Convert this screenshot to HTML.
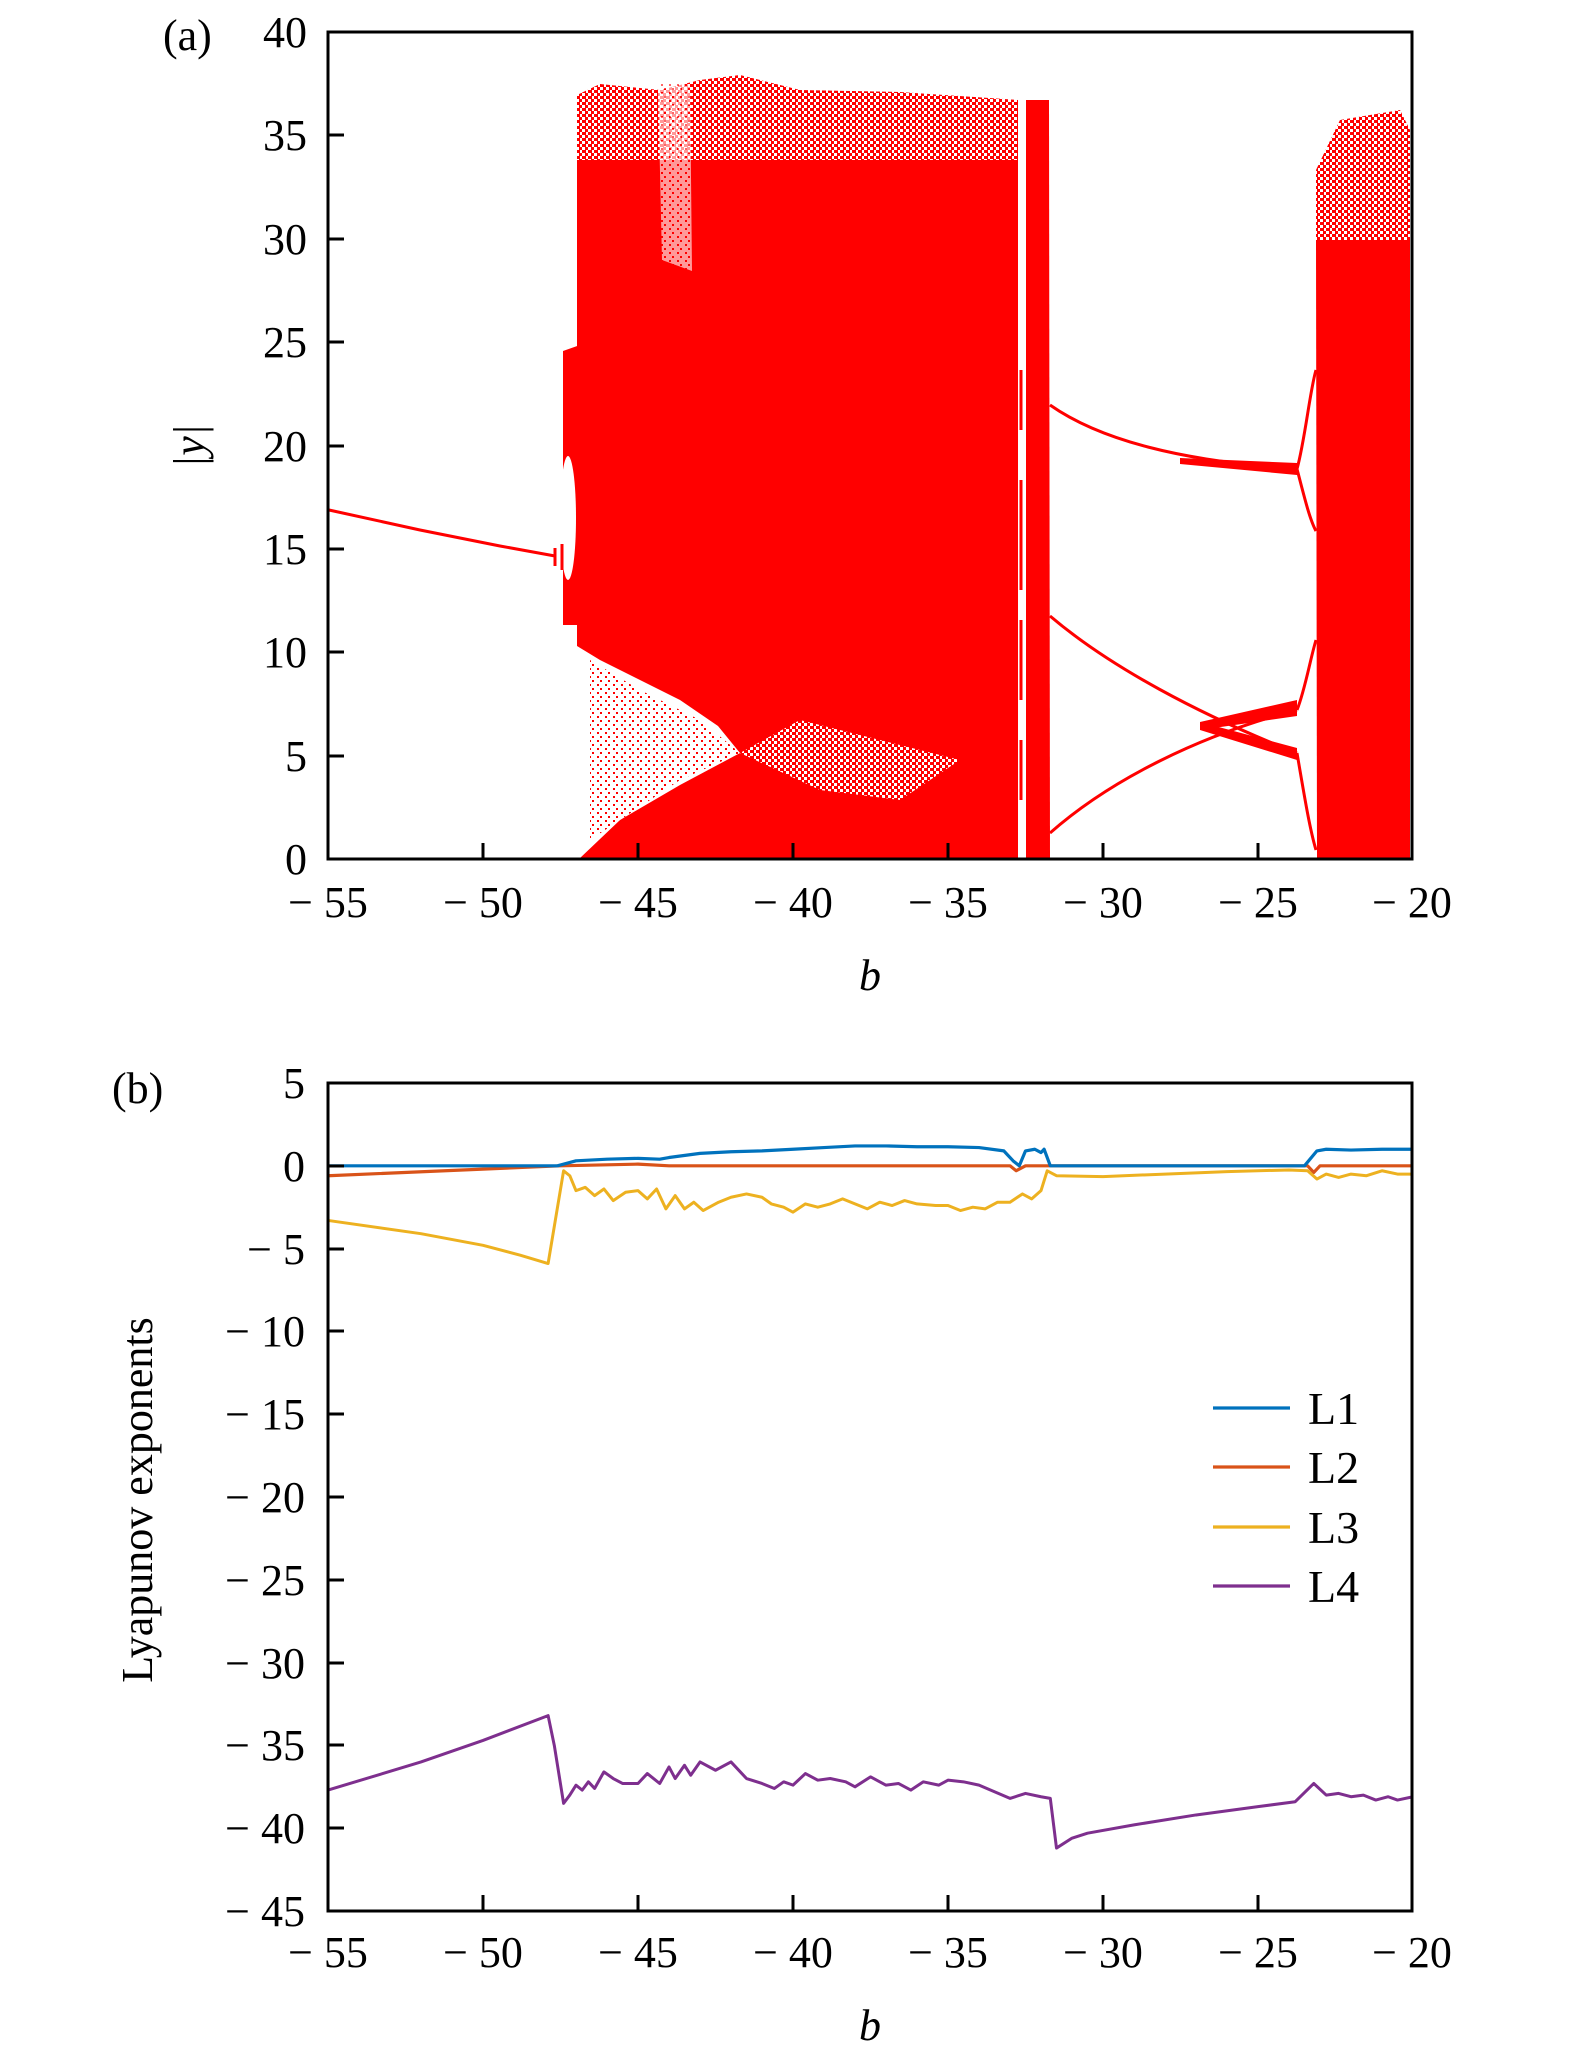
<!DOCTYPE html>
<html><head><meta charset="utf-8"><style>
html,body{margin:0;padding:0;background:#fff;}
svg text{font-family:"Liberation Serif",serif;fill:#000;}
</style></head><body>
<svg width="1575" height="2057" viewBox="0 0 1575 2057" xmlns="http://www.w3.org/2000/svg">
<defs>
<pattern id="spk" width="6" height="6" patternUnits="userSpaceOnUse">
<rect width="6" height="6" fill="#fff"/><rect x="0" y="0" width="4" height="3" fill="#f00"/><rect x="3" y="3" width="3" height="3" fill="#f00"/>
</pattern>
<pattern id="spk2" width="8" height="8" patternUnits="userSpaceOnUse">
<rect width="8" height="8" fill="#fff"/><rect x="0" y="0" width="2" height="2" fill="#f00"/><rect x="5" y="4" width="2" height="2" fill="#f00"/>
</pattern>
</defs>
<!-- Panel a -->
<g fill="#f00">
  <polygon points="577,95 600,84 660,90 700,80 740,75 800,90 900,92 1018,100 1018,170 577,170" fill="url(#spk)"/>
  <polygon points="577,160 1018,160 1018,859 579,859 620,820 680,785 740,753 718,726 680,700 640,680 600,660 577,646"/>
  <polygon points="740,753 800,720 900,745 960,760 900,800 820,790" fill="url(#spk)"/>
  <polygon points="590,660 640,690 700,720 740,753 680,780 620,820 590,840" fill="url(#spk2)"/>
  <polygon points="563,351 580,345 580,625 563,625"/>
  <ellipse cx="568" cy="518" rx="8" ry="62" fill="#fff"/>
  <polygon points="1026,100 1049,100 1050,859 1026,859"/>
  <polygon points="1316,170 1340,120 1400,110 1410,130 1410,250 1316,250" fill="url(#spk)"/>
  <polygon points="1316,240 1410,240 1410,859 1317,859"/>
</g>
<polygon points="658,84 690,84 692,271 662,260" fill="url(#spk2)" opacity="0.6"/>
<rect x="1019" y="100" width="6" height="759" fill="#fff"/>
<g stroke="#f00" fill="none" stroke-width="3">
  <path d="M1021,370 L1021,430 M1021,480 L1021,590 M1021,620 L1021,700 M1021,740 L1021,800"/>
  <path d="M329,510 L420,530 L500,546 L555,556"/>
  <path d="M555,548 L555,566 M562,544 L562,570"/>
  <path d="M1050,405 C1100,440 1180,461 1297,469"/>
  <path d="M1297,469 C1305,440 1310,390 1316,370 M1297,469 C1305,500 1310,520 1316,531"/>
  <path d="M1050,616 C1110,667 1200,715 1297,753"/>
  <path d="M1050,833 C1110,780 1200,735 1297,710"/>
  <path d="M1297,710 C1305,690 1310,660 1316,640 M1297,753 C1305,800 1310,830 1316,850"/>
</g>
<polygon points="1180,458 1297,463 1297,475 1180,464" fill="#f00"/>
<polygon points="1200,722 1297,700 1297,716 1200,730" fill="#f00"/>
<polygon points="1200,722 1297,748 1297,760 1200,730" fill="#f00"/>
<!-- axes a -->
<g stroke="#000" stroke-width="3" fill="none">
  <rect x="328" y="32" width="1084" height="827"/>
  <path d="M328,756 h16 M328,652 h16 M328,549 h16 M328,446 h16 M328,342 h16 M328,239 h16 M328,135 h16"/>
  <path d="M483,859 v-16 M638,859 v-16 M793,859 v-16 M948,859 v-16 M1103,859 v-16 M1258,859 v-16"/>
</g>
<g font-size="44" text-anchor="end">
  <text x="307" y="874">0</text><text x="307" y="771">5</text><text x="307" y="667">10</text><text x="307" y="564">15</text>
  <text x="307" y="461">20</text><text x="307" y="357">25</text><text x="307" y="254">30</text><text x="307" y="150">35</text><text x="307" y="47">40</text>
</g>
<g font-size="44" text-anchor="middle">
  <text x="328" y="917">− 55</text><text x="483" y="917">− 50</text><text x="638" y="917">− 45</text><text x="793" y="917">− 40</text>
  <text x="948" y="917">− 35</text><text x="1103" y="917">− 30</text><text x="1258" y="917">− 25</text><text x="1412" y="917">− 20</text>
  <text x="870" y="990" font-style="italic">b</text>
</g>
<text x="163" y="50" font-size="44">(a)</text>
<text transform="translate(204,446) rotate(-90)" font-size="44" text-anchor="middle" font-style="italic">|y|</text>

<!-- Panel b -->
<g transform="matrix(31 0 0 -16.56 2033 1165.8)" fill="none" stroke-linejoin="round">
 <polyline vector-effect="non-scaling-stroke" stroke="#d95319" stroke-width="3.2" points="-55,-0.6 -47.5,0 -45,0.1 -44,0 -33,0 -32.8,-0.3 -32.5,0 -31.8,0 -23.4,0 -23.2,-0.4 -23,0 -20,0"/>
 <polyline vector-effect="non-scaling-stroke" stroke="#0072bd" stroke-width="3.2" points="-55,0 -47.6,0 -47,0.3 -46,0.4 -45,0.45 -44.3,0.4 -44,0.5 -43,0.75 -42,0.85 -41,0.9 -40,1.0 -39,1.1 -38,1.2 -37,1.2 -36,1.15 -35,1.15 -34,1.1 -33.2,0.9 -32.9,0.3 -32.7,0 -32.5,0.9 -32.2,1.0 -32,0.8 -31.9,1.0 -31.7,0 -23.5,0 -23.1,0.9 -22.8,1.0 -22,0.95 -21,1.0 -20,1.0"/>
 <polyline vector-effect="non-scaling-stroke" stroke="#edb120" stroke-width="3" points="-55,-3.3 -52,-4.1 -50,-4.8 -48.8,-5.4 -47.9,-5.9 -47.4,-0.3 -47.2,-0.6 -47,-1.5 -46.7,-1.3 -46.4,-1.8 -46.1,-1.4 -45.8,-2.1 -45.4,-1.6 -45,-1.5 -44.7,-2.0 -44.4,-1.4 -44.1,-2.6 -43.8,-1.8 -43.5,-2.6 -43.2,-2.2 -42.9,-2.7 -42.4,-2.2 -42,-1.9 -41.5,-1.7 -41,-1.9 -40.7,-2.3 -40.3,-2.5 -40,-2.8 -39.6,-2.3 -39.2,-2.5 -38.8,-2.3 -38.4,-2.0 -38,-2.3 -37.6,-2.6 -37.2,-2.2 -36.8,-2.4 -36.4,-2.1 -36,-2.3 -35.4,-2.4 -35,-2.4 -34.6,-2.7 -34.2,-2.5 -33.8,-2.6 -33.4,-2.2 -33,-2.2 -32.6,-1.7 -32.3,-2.0 -32,-1.5 -31.8,-0.3 -31.5,-0.6 -30,-0.65 -28,-0.5 -26,-0.35 -24,-0.25 -23.4,-0.3 -23.1,-0.8 -22.8,-0.5 -22.4,-0.7 -22,-0.5 -21.5,-0.6 -21,-0.3 -20.5,-0.5 -20,-0.5"/>
 <polyline vector-effect="non-scaling-stroke" stroke="#7e2f8e" stroke-width="3" points="-55,-37.7 -52,-36.0 -50,-34.7 -47.9,-33.2 -47.7,-35 -47.4,-38.5 -47.2,-38.0 -47,-37.4 -46.8,-37.7 -46.6,-37.2 -46.4,-37.6 -46.1,-36.6 -45.8,-37.0 -45.5,-37.3 -45,-37.3 -44.7,-36.7 -44.3,-37.3 -44,-36.3 -43.8,-37.0 -43.5,-36.2 -43.3,-36.8 -43,-36.0 -42.5,-36.5 -42,-36.0 -41.5,-37.0 -41,-37.3 -40.6,-37.6 -40.3,-37.2 -40,-37.4 -39.6,-36.7 -39.2,-37.1 -38.8,-37.0 -38.3,-37.2 -38,-37.5 -37.5,-36.9 -37,-37.4 -36.6,-37.3 -36.2,-37.7 -35.8,-37.2 -35.3,-37.4 -35,-37.1 -34.5,-37.2 -34,-37.4 -33.5,-37.8 -33,-38.2 -32.5,-37.9 -32,-38.1 -31.7,-38.2 -31.5,-41.2 -31,-40.6 -30.5,-40.3 -29,-39.8 -27,-39.2 -25,-38.7 -23.8,-38.4 -23.2,-37.3 -22.8,-38.0 -22.4,-37.9 -22,-38.1 -21.6,-38.0 -21.2,-38.3 -20.8,-38.1 -20.5,-38.3 -20,-38.1"/>
</g>
<!-- axes b -->
<g stroke="#000" stroke-width="3" fill="none">
  <rect x="328" y="1083" width="1084" height="828"/>
  <path d="M328,1166 h16 M328,1249 h16 M328,1331 h16 M328,1414 h16 M328,1497 h16 M328,1580 h16 M328,1663 h16 M328,1745 h16 M328,1828 h16"/>
  <path d="M483,1911 v-16 M638,1911 v-16 M793,1911 v-16 M948,1911 v-16 M1103,1911 v-16 M1258,1911 v-16"/>
</g>
<g font-size="44" text-anchor="end">
  <text x="305" y="1098">5</text><text x="305" y="1181">0</text><text x="305" y="1264">− 5</text><text x="305" y="1346">− 10</text>
  <text x="305" y="1429">− 15</text><text x="305" y="1512">− 20</text><text x="305" y="1595">− 25</text><text x="305" y="1678">− 30</text>
  <text x="305" y="1760">− 35</text><text x="305" y="1843">− 40</text><text x="305" y="1926">− 45</text>
</g>
<g font-size="44" text-anchor="middle">
  <text x="328" y="1967">− 55</text><text x="483" y="1967">− 50</text><text x="638" y="1967">− 45</text><text x="793" y="1967">− 40</text>
  <text x="948" y="1967">− 35</text><text x="1103" y="1967">− 30</text><text x="1258" y="1967">− 25</text><text x="1412" y="1967">− 20</text>
  <text x="870" y="2040" font-style="italic">b</text>
</g>
<text x="112" y="1103" font-size="44">(b)</text>
<text transform="translate(152,1500) rotate(-90)" font-size="44" text-anchor="middle">Lyapunov exponents</text>
<g stroke-width="3.2">
  <line x1="1213" y1="1408" x2="1290" y2="1408" stroke="#0072bd"/>
  <line x1="1213" y1="1467" x2="1290" y2="1467" stroke="#d95319"/>
  <line x1="1213" y1="1527" x2="1290" y2="1527" stroke="#edb120"/>
  <line x1="1213" y1="1586" x2="1290" y2="1586" stroke="#7e2f8e"/>
</g>
<g font-size="46">
  <text x="1308" y="1424">L1</text><text x="1308" y="1483">L2</text><text x="1308" y="1543">L3</text><text x="1308" y="1602">L4</text>
</g>
</svg>
</body></html>
